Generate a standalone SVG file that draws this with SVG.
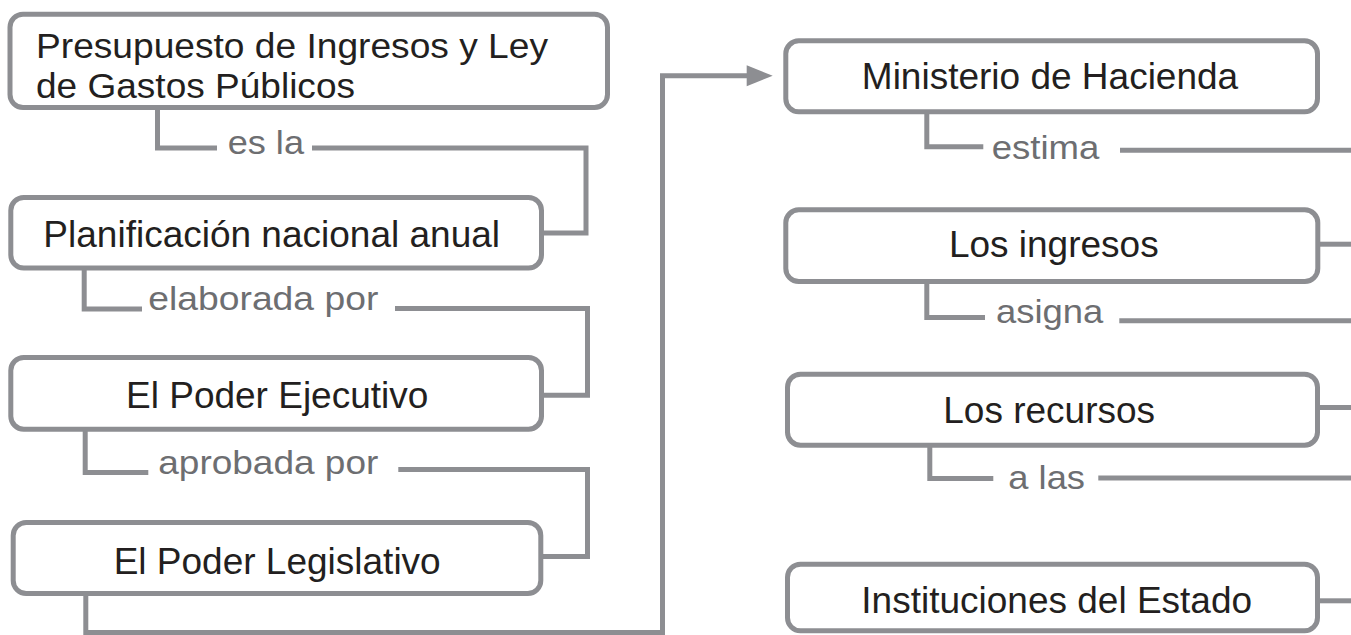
<svg xmlns="http://www.w3.org/2000/svg" width="1351" height="635" viewBox="0 0 1351 635">
<style>
.box{fill:#fff;stroke:#8d8e92;stroke-width:5}
.ln{fill:none;stroke:#8d8e92;stroke-width:5}
.nt{font-family:"Liberation Sans",Arial,sans-serif;font-size:37px;fill:#231f20}
.lb{font-family:"Liberation Sans",Arial,sans-serif;font-size:34px;fill:#6d6e71}
</style>
<rect width="1351" height="635" fill="#fff"/>
<g id="connectors">
<path class="ln" d="M157.5,108 V148 H217 M312,148 H586 V233 H543"/>
<path class="ln" d="M84.2,268 V309 H142 M395,308.5 H587.5 V395.2 H543.5"/>
<path class="ln" d="M85.2,429 V472.5 H148.3 M398.3,469.5 H587.5 V556.5 H542.7"/>
<path class="ln" d="M85.8,593.5 V632.5 H662.5 V75.8 H748"/>
<polygon points="746.7,65.3 772.7,75.8 746.7,86.3" fill="#8d8e92"/>
<path class="ln" d="M926.8,111.8 V146.8 H983.3 M1120,150.2 H1351"/>
<path class="ln" d="M1320,244.2 H1351"/>
<path class="ln" d="M926.8,281.5 V317.5 H985 M1119.3,320.8 H1351"/>
<path class="ln" d="M1320,407.5 H1351"/>
<path class="ln" d="M929.8,445.2 V478.5 H993.3 M1098.3,478 H1351"/>
<path class="ln" d="M1320,600.8 H1351"/>
<text class="lb" x="227.7" y="154" textLength="76.3" lengthAdjust="spacingAndGlyphs">es la</text>
<text class="lb" x="148.3" y="310" textLength="230" lengthAdjust="spacingAndGlyphs">elaborada por</text>
<text class="lb" x="158.3" y="474" textLength="220" lengthAdjust="spacingAndGlyphs">aprobada por</text>
<text class="lb" x="991.7" y="159" textLength="107.7" lengthAdjust="spacingAndGlyphs">estima</text>
<text class="lb" x="996" y="323" textLength="107.3" lengthAdjust="spacingAndGlyphs">asigna</text>
<text class="lb" x="1008.3" y="489" textLength="76.7" lengthAdjust="spacingAndGlyphs">a las</text>
</g>
<g id="n1"><rect class="box" x="10" y="14.2" width="597.5" height="93.3" rx="13"/>
<text class="nt" x="36" y="58" style="font-size:35px" textLength="512" lengthAdjust="spacingAndGlyphs">Presupuesto de Ingresos y Ley</text>
<text class="nt" x="36" y="98" style="font-size:35px" textLength="319" lengthAdjust="spacingAndGlyphs">de Gastos Públicos</text></g>
<g id="n2"><rect class="box" x="10.8" y="197.5" width="530.7" height="70.5" rx="13"/>
<text class="nt" x="271.7" y="246.7" text-anchor="middle">Planificación nacional anual</text></g>
<g id="n3"><rect class="box" x="10.8" y="357.5" width="530.7" height="71.7" rx="13"/>
<text class="nt" x="277.2" y="408.3" text-anchor="middle">El Poder Ejecutivo</text></g>
<g id="n4"><rect class="box" x="13.2" y="522.5" width="527.6" height="71" rx="13"/>
<text class="nt" x="277.2" y="574" text-anchor="middle">El Poder Legislativo</text></g>
<g id="n5"><rect class="box" x="785.8" y="40.8" width="531.7" height="71" rx="13"/>
<text class="nt" x="1050" y="89.3" text-anchor="middle">Ministerio de Hacienda</text></g>
<g id="n6"><rect class="box" x="785.8" y="209.8" width="532" height="71.7" rx="13"/>
<text class="nt" x="1053.8" y="256.7" text-anchor="middle">Los ingresos</text></g>
<g id="n7"><rect class="box" x="787.5" y="374.2" width="530" height="71" rx="13"/>
<text class="nt" x="1049.2" y="422.7" text-anchor="middle">Los recursos</text></g>
<g id="n8"><rect class="box" x="787.5" y="564.2" width="530" height="66.6" rx="13"/>
<text class="nt" x="1056.7" y="613.3" text-anchor="middle">Instituciones del Estado</text></g>
</svg>
